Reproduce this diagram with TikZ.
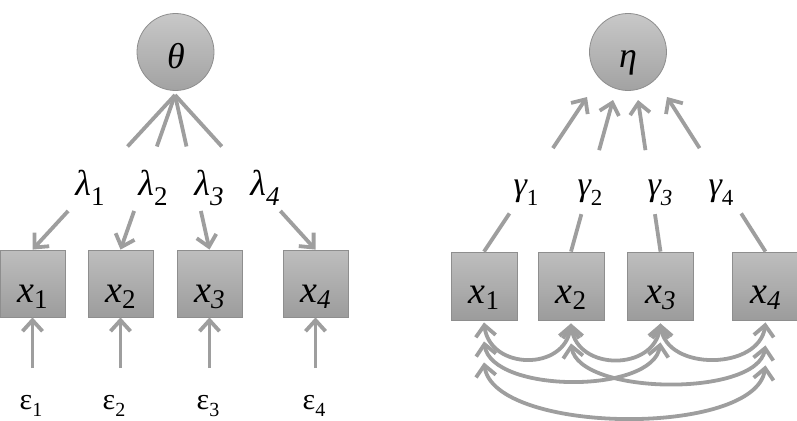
\documentclass[tikz,border=0pt]{standalone}
\usepackage{fontspec}
\setmainfont{Liberation Serif}
\usetikzlibrary{arrows.meta,calc}
\definecolor{lncol}{HTML}{9E9E9E}
\definecolor{boxtop}{HTML}{BEBEBE}
\definecolor{boxbot}{HTML}{9C9C9C}
\definecolor{circtop}{HTML}{C8C8C8}
\definecolor{circbot}{HTML}{A2A2A2}
\definecolor{bdr}{HTML}{8E8E8E}
\newcommand{\mysub}[3]{\raisebox{-#1pt}{\fontsize{#2}{#2}\selectfont #3}}
\begin{document}
\begin{tikzpicture}[x=1pt,y=-1pt,
  obs/.style={draw=bdr, line width=0.8pt, top color=boxtop, bottom color=boxbot,
    minimum width=65pt, minimum height=67pt, inner sep=0pt},
  lat/.style={circle, draw=bdr, line width=0.8pt, top color=circtop, bottom color=circbot,
    minimum size=77pt, inner sep=0pt},
  lnk/.style={draw=lncol, line width=3.8pt},
  tipb/.tip={Straight Barb[length=11pt,width=20pt]},
  arr/.style={lnk, -tipb},
  darr/.style={lnk, tipb-tipb},
  lab/.style={inner sep=0pt, anchor=base},
  xl/.style={lab, font=\fontsize{38}{38}\selectfont},
  gl/.style={lab, font=\fontsize{36}{36}\selectfont},
  el/.style={lab, font=\fontsize{30}{30}\selectfont},
]
\useasboundingbox (0,0) rectangle (797,420);

% ---------- left model ----------
\node[lat] (theta) at (175.5,52) {};
\node[gl] (thetal) at (176,69) {\itshape θ};
\coordinate (thf) at (175,95);

\node[obs] (lx1) at (32.5,283.5) {};
\node[obs] (lx2) at (120.5,283.5) {};
\node[obs] (lx3) at (209.5,283.5) {};
\node[obs] (lx4) at (315.5,283.5) {};

\node[xl] (lx1l) at ($(lx1.center)+(0,18.5)$) {\itshape x\mysub{6}{27}{\upshape 1}};
\node[xl] (lx2l) at ($(lx2.center)+(0,18.5)$) {\itshape x\mysub{6}{27}{\upshape 2}};
\node[xl] (lx3l) at ($(lx3.center)+(0,18.5)$) {\itshape x\mysub{6}{27}{3}};
\node[xl] (lx4l) at ($(lx4.center)+(0,18.5)$) {\itshape x\mysub{6}{27}{4}};

\node[gl] (lam1) at (90,195) {\itshape λ\mysub{10}{27}{\upshape 1}};
\node[gl] (lam2) at (153,195) {\itshape λ\mysub{10}{27}{\upshape 2}};
\node[gl] (lam3) at (209,195) {\itshape λ\mysub{10}{27}{3}};
\node[gl] (lam4) at (265,195) {\itshape λ\mysub{10}{27}{4}};

\foreach \i in {1,2,3,4}{
  \draw[lnk] (thf) -- ($(thf)!0.333!(lx\i.north)$);
  \draw[arr] ($(thf)!0.75!(lx\i.north)$) -- (lx\i.north);
}

\node[el] (e1) at (31,409) {ε\mysub{7}{20}{1}};
\node[el] (e2) at (114,409) {ε\mysub{7}{20}{2}};
\node[el] (e3) at (208,409) {ε\mysub{7}{20}{3}};
\node[el] (e4) at (314,409) {ε\mysub{7}{20}{4}};

\coordinate (e1s) at (32.5,368);
\coordinate (e2s) at (120.5,368);
\coordinate (e3s) at (209.5,368);
\coordinate (e4s) at (315.5,368);
\foreach \i in {1,2,3,4}{
  \draw[arr] (e\i s) -- (lx\i.south);
}

% ---------- right model ----------
\node[lat] (eta) at (628,52) {};
\node[gl] (etal) at (628,67) {\itshape η};

\node[obs, minimum width=66pt, minimum height=68pt] (rx1) at (484,286) {};
\node[obs, minimum width=66pt, minimum height=68pt] (rx2) at (571,286) {};
\node[obs, minimum width=66pt, minimum height=68pt] (rx3) at (660.5,286) {};
\node[obs, minimum width=66pt, minimum height=68pt] (rx4) at (765.5,286) {};

\node[xl] (rx1l) at ($(rx1.center)+(0,17.5)$) {\itshape x\mysub{6}{27}{\upshape 1}};
\node[xl] (rx2l) at ($(rx2.center)+(0,17.5)$) {\itshape x\mysub{6}{27}{\upshape 2}};
\node[xl] (rx3l) at ($(rx3.center)+(0,17.5)$) {\itshape x\mysub{6}{27}{3}};
\node[xl] (rx4l) at ($(rx4.center)+(0,17.5)$) {\itshape x\mysub{6}{27}{4}};

\node[gl, font=\fontsize{34}{34}\selectfont] (gam1) at (526,195) {\itshape γ\mysub{10}{23}{\upshape 1}};
\node[gl, font=\fontsize{34}{34}\selectfont] (gam2) at (590,195) {\itshape γ\mysub{10}{23}{\upshape 2}};
\node[gl, font=\fontsize{34}{34}\selectfont] (gam3) at (660,195) {\itshape γ\mysub{10}{23}{3}};
\node[gl, font=\fontsize{34}{34}\selectfont] (gam4) at (721,195) {\itshape γ\mysub{10}{23}{\upshape 4}};

\coordinate (t1) at (587,97);
\coordinate (t2) at (613,100);
\coordinate (t3) at (638,100);
\coordinate (t4) at (667,97);
\foreach \i in {1,2,3,4}{
  \draw[lnk] (rx\i.north) -- ($(rx\i.north)!0.247!(t\i)$);
  \draw[arr] ($(rx\i.north)!0.669!(t\i)$) -- (t\i);
}

% covariance arcs
\coordinate (c1a) at ($(rx1.south)+(0,2)$);
\coordinate (c2a) at ($(rx2.south)+(0,3)$);
\coordinate (c3a) at ($(rx3.south)+(0,3)$);
\coordinate (c4a) at ($(rx4.south)+(0,2)$);
\coordinate (c1b) at ($(rx1.south)+(0,21)$);
\coordinate (c2b) at ($(rx2.south)+(0,23)$);
\coordinate (c3b) at ($(rx3.south)+(0,22)$);
\coordinate (c4b) at ($(rx4.south)+(0,25)$);
\coordinate (c1c) at ($(rx1.south)+(0,42)$);
\coordinate (c4c) at ($(rx4.south)+(0,45)$);

\draw[darr] (c1a) .. controls +(6,48) and +(-6,48) .. (c2a);
\draw[darr] (c2a) .. controls +(6,48) and +(-6,48) .. (c3a);
\draw[darr] (c3a) .. controls +(6,48) and +(-6,48) .. (c4a);
\draw[darr] (c1b) .. controls +(8,52) and +(-8,52) .. (c3b);
\draw[darr] (c2b) .. controls +(8,52) and +(-8,52) .. (c4b);
\draw[darr] (c1c) .. controls +(10,72) and +(-10,72) .. (c4c);
\end{tikzpicture}
\end{document}
